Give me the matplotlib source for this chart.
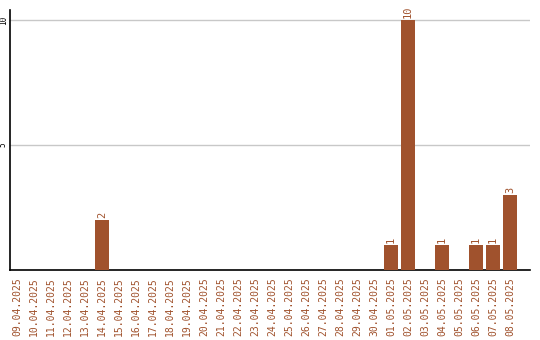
import matplotlib
matplotlib.use('Agg')
import matplotlib.pyplot as plt
import pandas as pd

dates = pd.date_range("2025-04-09", "2025-05-08").strftime("%d.%m.%Y").tolist()
counts = [0, 0, 0, 0, 0, 2, 0, 0, 0, 0, 0, 0, 0, 0, 0, 0, 0, 0, 0, 0, 0, 0,
          1, 10, 0, 1, 0, 1, 1, 3]
y_ticks = [5, 10]

brown = "#a0522d"

fig = plt.figure(figsize=(5.4, 3.4), dpi=100)
ax = fig.add_axes([10 / 540, 70 / 340, 520 / 540, 260 / 340])

x = list(range(len(dates)))
ax.bar(x, counts, width=0.82, color=brown, zorder=3)
for xi, c in zip(x, counts):
    if c > 0:
        ax.text(xi, c + 0.08, str(c), rotation=90, ha="center", va="bottom",
                color=brown, fontsize=7.5, family="DejaVu Sans Mono")

ax.set_xlim(-0.41, 30.18)
ax.set_ylim(0, 10.4)
ax.set_yticks(y_ticks)
ax.set_yticklabels([str(v) for v in y_ticks], rotation=90, va="center",
                   fontsize=5.5, family="DejaVu Sans Mono")
ax.set_xticks(x)
ax.set_xticklabels(dates, rotation=90, color=brown, fontsize=7,
                   family="DejaVu Sans Mono")
ax.tick_params(axis="x", length=0, pad=5)
ax.tick_params(axis="y", length=0, pad=1.5)
ax.grid(axis="y", color="#c8c8c8", linewidth=1, zorder=0)
ax.spines["top"].set_visible(False)
ax.spines["right"].set_visible(False)
ax.spines["left"].set_linewidth(1.2)
ax.spines["bottom"].set_linewidth(1.2)

fig.savefig("out.png", dpi=100)
